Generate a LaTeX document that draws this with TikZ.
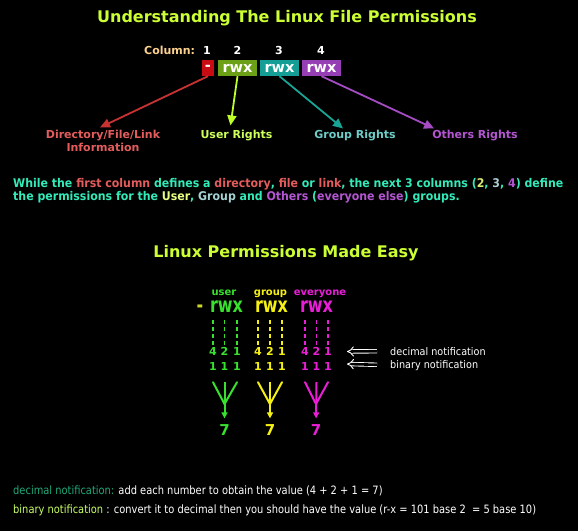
\documentclass[tikz,border=0pt]{standalone}
\usepackage{fontspec}
\setmainfont{DejaVu Sans}
\usetikzlibrary{arrows.meta}
\definecolor{ttl}{RGB}{204,255,51}
\definecolor{colm}{RGB}{250,208,140}
\definecolor{bred}{RGB}{200,12,20}
\definecolor{bgrn}{RGB}{108,160,22}
\definecolor{btel}{RGB}{20,158,150}
\definecolor{bpur}{RGB}{150,62,180}
\definecolor{ared}{RGB}{200,50,50}
\definecolor{agrn}{RGB}{190,255,40}
\definecolor{atel}{RGB}{25,165,150}
\definecolor{apur}{RGB}{165,75,195}
\definecolor{lred}{RGB}{228,92,92}
\definecolor{lgrn}{RGB}{206,255,90}
\definecolor{ltel}{RGB}{110,205,200}
\definecolor{lpur}{RGB}{180,85,210}
\definecolor{aq}{RGB}{50,235,185}
\definecolor{ptwo}{RGB}{215,235,110}
\definecolor{pthr}{RGB}{170,205,210}
\definecolor{pusr}{RGB}{230,255,130}
\definecolor{pgrp}{RGB}{165,210,210}
\definecolor{lg}{RGB}{55,225,45}
\definecolor{ly}{RGB}{245,240,20}
\definecolor{lm}{RGB}{235,30,215}
\definecolor{dash1}{RGB}{205,215,40}
\definecolor{ndec}{RGB}{30,170,120}
\definecolor{nbin}{RGB}{200,255,100}
\newcommand{\sx}[2]{\scalebox{#1}[1]{#2}}
\begin{document}
\begin{tikzpicture}[x=1pt,y=-1pt,
  txt/.style={inner sep=0pt, anchor=base},
  bigttl/.style={txt, text=ttl, font=\bfseries\fontsize{16}{16}\selectfont},
  pbox/.style={inner sep=0pt, minimum height=16pt, minimum width=39pt, text=white,
    font=\bfseries\fontsize{14.5}{14.5}\selectfont},
  toparrow/.style={line width=1.8pt, -{Triangle[length=10pt,width=9pt]}},
  lbl/.style={txt, font=\bfseries\fontsize{11}{11}\selectfont},
  para/.style={txt, anchor=base west, text=aq, font=\bfseries\fontsize{12}{12}\selectfont},
  dig/.style={txt, font=\bfseries\fontsize{11}{11}\selectfont},
  dashln/.style={line width=1.3pt, dash pattern=on 4pt off 3pt},
  vln/.style={line width=2pt},
  varr/.style={line width=2pt, -{Triangle[length=6pt,width=6pt]}},
  seven/.style={txt, font=\bfseries\fontsize{15}{15}\selectfont},
  note/.style={txt, anchor=base west, text=white, font=\fontsize{11.5}{11.5}\selectfont},
  hollow/.style={draw=white, line width=0.9pt, double=black, double distance=2.6pt, -{Implies}}
]
\fill[black] (0,0) rectangle (578,531);
\useasboundingbox (0,0) rectangle (578,531);

% ---------- top part ----------
\node[bigttl] (title) at (287,22) {Understanding The Linux File Permissions};
\node[txt, anchor=base west, text=colm, font=\bfseries\fontsize{11}{11}\selectfont] (colw) at (144,54) {Column:};
\node[dig, text=white] (n1) at (207,54) {1};
\node[dig, text=white] (n2) at (237.5,54) {2};
\node[dig, text=white] (n3) at (279,54) {3};
\node[dig, text=white] (n4) at (321,54) {4};

\node[pbox, fill=bred, minimum width=12.5pt] (b1) at (208,68) {-};
\node[pbox, fill=bgrn] (b2) at (237.5,68) {rwx};
\node[pbox, fill=btel] (b3) at (279.5,68) {rwx};
\node[pbox, fill=bpur] (b4) at (321.5,68) {rwx};

\node[lbl, text=lred] (l1) at (103,138) {Directory/File/Link};
\node[lbl, text=lred] (l1b) at (103,151) {Information};
\node[lbl, text=lgrn] (l2) at (236.5,138) {User Rights};
\node[lbl, text=ltel] (l3) at (355,138) {Group Rights};
\node[lbl, text=lpur] (l4) at (475,138) {Others Rights};

\draw[toparrow, ared] (b1.south) -- ([xshift=-3pt,yshift=2pt]l1.north);
\draw[toparrow, agrn] (b2.south) -- ([xshift=-6pt,yshift=4pt]l2.north);
\draw[toparrow, atel] (b3.south) -- ([xshift=-12pt,yshift=1pt]l3.north);
\draw[toparrow, apur] (b4.south) -- ([xshift=2pt,yshift=1pt]l4.north west);

% ---------- paragraph ----------
\node[para] (p1) at (13,187) {\sx{0.915}{While the \textcolor{lred}{first column} defines a \textcolor{lred}{directory}, \textcolor{lred}{file} or \textcolor{lred}{link}, the next 3 columns (\textcolor{ptwo}{2}, \textcolor{pthr}{3}, \textcolor{lpur}{4}) define}};
\node[para] (p2) at (13,200) {\sx{0.915}{the permissions for the \textcolor{pusr}{User}, \textcolor{pgrp}{Group} and \textcolor{lpur}{Others} (\textcolor{lpur}{everyone else}) groups.}};

% ---------- lower part ----------
\node[bigttl] (title2) at (286,257) {Linux Permissions Made Easy};

\node[txt, text=lg, font=\bfseries\fontsize{10}{10}\selectfont] (uu) at (224,295) {user};
\node[txt, text=ly, font=\bfseries\fontsize{10}{10}\selectfont] (ug) at (270.5,295) {group};
\node[txt, text=lm, font=\bfseries\fontsize{10}{10}\selectfont] (ue) at (320,295) {everyone};

\node[txt, text=dash1, font=\bfseries\fontsize{21}{21}\selectfont] (mn) at (200,312.5) {\sx{0.76}{-}};
\node[txt, text=lg, font=\bfseries\fontsize{21}{21}\selectfont] (rg) at (226.5,312.5) {\sx{0.76}{rwx}};
\node[txt, text=ly, font=\bfseries\fontsize{21}{21}\selectfont] (ry) at (271.5,312.5) {\sx{0.76}{rwx}};
\node[txt, text=lm, font=\bfseries\fontsize{21}{21}\selectfont] (rm) at (316.5,312.5) {\sx{0.76}{rwx}};

\foreach \g/\c/\xa/\xb/\xc/\xm in {g/lg/213/224.5/237/224.5, y/ly/258/270/282/270, m/lm/305/316.5/328/316} {
  \node[dig, text=\c] (\g d4) at (\xa,355) {4};
  \node[dig, text=\c] (\g d2) at (\xb,355) {2};
  \node[dig, text=\c] (\g d1) at (\xc,355) {1};
  \node[dig, text=\c] (\g ba) at (\xa,370) {1};
  \node[dig, text=\c] (\g bb) at (\xb,370) {1};
  \node[dig, text=\c] (\g bc) at (\xc,370) {1};
  \node[seven, text=\c] (\g s) at (\xm,435.5) {7};
  \coordinate (\g v) at (\xm,404);
  \draw[dashln, \c] (\g d4.north) ++(0,-2) -- ++(0,-26);
  \draw[dashln, \c] (\g d2.north) ++(0,-2) -- ++(0,-26);
  \draw[dashln, \c] (\g d1.north) ++(0,-2) -- ++(0,-26);
  \draw[vln, \c, line cap=round] (\g ba.south) ++(0,12) -- (\g v);
  \draw[vln, \c, line cap=round] (\g bc.south) ++(0,12) -- (\g v);
  \draw[varr, \c, shorten >=6pt] (\g bb.south) ++(0,12) -- (\g s.north);
}

\node[txt, anchor=base west, text=white, font=\fontsize{10.5}{10.5}\selectfont] (decl) at (390,355) {\sx{0.92}{decimal notification}};
\node[txt, anchor=base west, text=white, font=\fontsize{10.5}{10.5}\selectfont] (binl) at (390,368) {\sx{0.92}{binary notification}};
\coordinate (dtip) at (347,351.5);
\coordinate (btip) at (347,364);
\draw[hollow, shorten <=13pt] (decl.west) -- (dtip);
\draw[hollow, shorten <=13pt] (binl.west) -- (btip);

% ---------- notes ----------
\node[note] (nt1) at (13,494) {\sx{0.86}{\textcolor{ndec}{decimal notification:} add each number to obtain the value (4 + 2 + 1 = 7)}};
\node[note] (nt2) at (13,513) {\sx{0.86}{\textcolor{nbin}{binary notification} : convert it to decimal then you should have the value (r-x = 101 base 2 \ = 5 base 10)}};
\end{tikzpicture}
\end{document}
